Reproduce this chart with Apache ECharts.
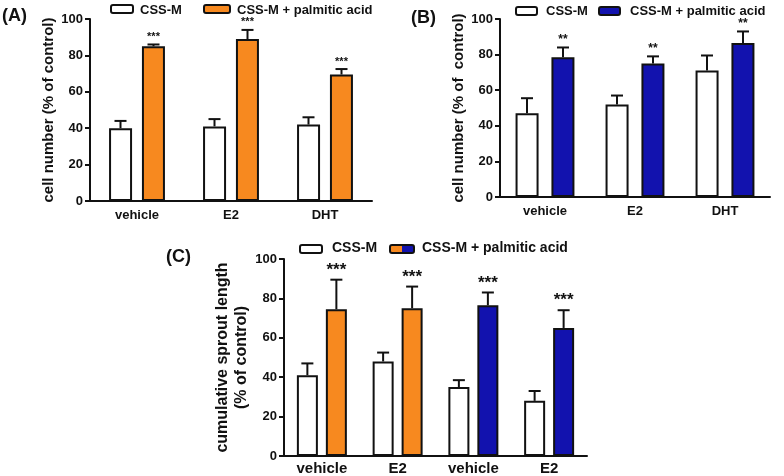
<!DOCTYPE html>
<html><head><meta charset="utf-8">
<script src="https://cdn.jsdelivr.net/npm/echarts@6/dist/echarts.min.js"></script>
<style>html,body{margin:0;padding:0;background:#fff}#c{width:784px;height:476px}</style>
</head><body><div id="c"></div>
<script>
// Panel A
var aCats = ['vehicle', 'E2', 'DHT'];
var aCtrl = [40, 41, 42];
var aCtrlErr = [4, 4, 4];
var aPA = [85, 89, 69.5];
var aPAErr = [1, 5, 3];
var aSig = ['***', '***', '***'];
// Panel B
var bCats = ['vehicle', 'E2', 'DHT'];
var bCtrl = [47, 52, 71];
var bCtrlErr = [8.5, 5, 8.5];
var bPA = [78.5, 75, 86.5];
var bPAErr = [5.5, 4, 6.5];
var bSig = ['**', '**', '**'];
// Panel C
var cCats = ['vehicle', 'E2', 'vehicle', 'E2'];
var cCtrl = [41, 48, 35, 28];
var cCtrlErr = [6, 4.5, 3.5, 5];
var cPA = [74.5, 75, 76.5, 65];
var cPAErr = [15, 11, 6.5, 9];
var cSig = ['***', '***', '***', '***'];

var ORANGE = '#f7891f', BLUE = '#1212ae';
var FONT = 'Liberation Sans';
var chart = echarts.init(document.getElementById('c'));

function yAx(gi, name, gap, fs) {
  return {
    type: 'value', gridIndex: gi, min: 0, max: 100, interval: 20,
    name: name, nameLocation: 'middle', nameGap: gap,
    nameTextStyle: {fontFamily: FONT, fontWeight: 'bold', fontSize: fs, color: '#111', lineHeight: fs + 3},
    axisLine: {show: true, lineStyle: {color: '#111', width: 2}},
    axisTick: {show: true, length: 5, lineStyle: {color: '#111', width: 2}},
    axisLabel: {fontFamily: FONT, fontWeight: 'bold', fontSize: 13, color: '#111', margin: 7},
    splitLine: {show: false}
  };
}
function xAx(gi, cats, fs, margin) {
  return {
    type: 'category', gridIndex: gi, data: cats,
    axisLine: {lineStyle: {color: '#111', width: 2}},
    axisTick: {show: false},
    axisLabel: {fontFamily: FONT, fontWeight: 'bold', fontSize: fs, color: '#111', margin: margin}
  };
}
function bars(gi, name, data, colors, bw, gap) {
  return {
    type: 'bar', name: name, xAxisIndex: gi, yAxisIndex: gi, barWidth: bw, barGap: gap,
    data: data.map(function (v, i) {
      return {value: v, itemStyle: {color: colors[i]}};
    }),
    itemStyle: {borderColor: '#111', borderWidth: 2},
    z: 2
  };
}
function errs(gi, vals, err, sig, offset, capHalf, sigSize, sigGap) {
  return {
    type: 'custom', xAxisIndex: gi, yAxisIndex: gi, z: 3,
    data: vals.map(function (v, i) { return [i, v, err[i]]; }),
    renderItem: function (params, api) {
      var i = api.value(0), v = api.value(1), e = api.value(2);
      var p0 = api.coord([i, v]);
      var p1 = api.coord([i, v + e]);
      var x = p0[0] + offset;
      var ch = [
        {type: 'line', shape: {x1: x, y1: p0[1], x2: x, y2: p1[1]}, style: {stroke: '#111', lineWidth: 2}},
        {type: 'line', shape: {x1: x - capHalf, y1: p1[1], x2: x + capHalf, y2: p1[1]}, style: {stroke: '#111', lineWidth: 2}}
      ];
      if (sig) {
        ch.push({type: 'text', style: {text: sig[i], x: x, y: p1[1] - sigGap, align: 'center', verticalAlign: 'bottom',
          font: 'bold ' + sigSize + 'px ' + FONT, fill: '#111'}});
      }
      return {type: 'group', children: ch};
    }
  };
}
function legendBox(x, y, w, h, fill) {
  return {type: 'rect', shape: {x: x, y: y, width: w, height: h, r: 2}, style: {fill: fill, stroke: '#111', lineWidth: 2}};
}
function txt(x, y, t, size) {
  return {type: 'text', style: {text: t, x: x, y: y, font: 'bold ' + size + 'px ' + FONT, fill: '#111', verticalAlign: 'middle'}};
}

var option = {
  animation: false,
  backgroundColor: '#fff',
  grid: [
    {left: 90, top: 19, width: 282, height: 182},
    {left: 500, top: 19, width: 270, height: 178},
    {left: 284, top: 259, width: 303, height: 200}
  ],
  xAxis: [xAx(0, aCats, 13, 8), xAx(1, bCats, 13, 8), xAx(2, cCats, 15, 5)],
  yAxis: [
    yAx(0, 'cell number (% of control)', 31, 15),
    yAx(1, 'cell number (% of  control)', 31, 15),
    yAx(2, 'cumulative sprout length\n(% of control)', 30, 16)
  ],
  series: [
    bars(0, 'CSS-M', aCtrl, aCtrl.map(function () { return '#fff'; }), 23, '43%'),
    bars(0, 'CSS-M + palmitic acid', aPA, aPA.map(function () { return ORANGE; }), 23, '43%'),
    errs(0, aCtrl, aCtrlErr, null, -16.5, 6, 10, 2),
    errs(0, aPA, aPAErr, aSig, 16.5, 6, 11, 2),
    bars(1, 'CSS-M', bCtrl, bCtrl.map(function () { return '#fff'; }), 23, '56%'),
    bars(1, 'CSS-M + palmitic acid', bPA, bPA.map(function () { return BLUE; }), 23, '56%'),
    errs(1, bCtrl, bCtrlErr, null, -18, 6, 10, 2),
    errs(1, bPA, bPAErr, bSig, 18, 6, 12, 2),
    bars(2, 'CSS-M', cCtrl, cCtrl.map(function () { return '#fff'; }), 21, '38%'),
    bars(2, 'CSS-M + palmitic acid', cPA, [ORANGE, ORANGE, BLUE, BLUE], 21, '38%'),
    errs(2, cCtrl, cCtrlErr, null, -14.5, 6, 10, 2),
    errs(2, cPA, cPAErr, cSig, 14.5, 6, 17, 1)
  ],
  graphic: [
    txt(2, 16, '(A)', 18),
    txt(411, 18, '(B)', 18),
    txt(166, 257, '(C)', 18),
    legendBox(111, 5, 22, 8, '#fff'), txt(140, 10, 'CSS-M', 13),
    legendBox(204, 5, 26, 8, ORANGE), txt(237, 10, 'CSS-M + palmitic acid', 13),
    legendBox(516, 7, 21, 8, '#fff'), txt(546, 11, 'CSS-M', 13),
    legendBox(599, 7, 21, 8, BLUE), txt(630, 11, 'CSS-M + palmitic acid', 13),
    legendBox(300, 245, 22, 8, '#fff'), txt(332, 248, 'CSS-M', 14),
    {type: 'group', children: [
      {type: 'rect', shape: {x: 390, y: 245, width: 12, height: 8}, style: {fill: ORANGE}},
      {type: 'rect', shape: {x: 402, y: 245, width: 12, height: 8}, style: {fill: BLUE}},
      {type: 'rect', shape: {x: 390, y: 245, width: 24, height: 8, r: 2}, style: {fill: 'none', stroke: '#111', lineWidth: 2}}
    ]},
    txt(422, 248, 'CSS-M + palmitic acid', 14)
  ]
};
chart.setOption(option);
</script>
</body></html>
